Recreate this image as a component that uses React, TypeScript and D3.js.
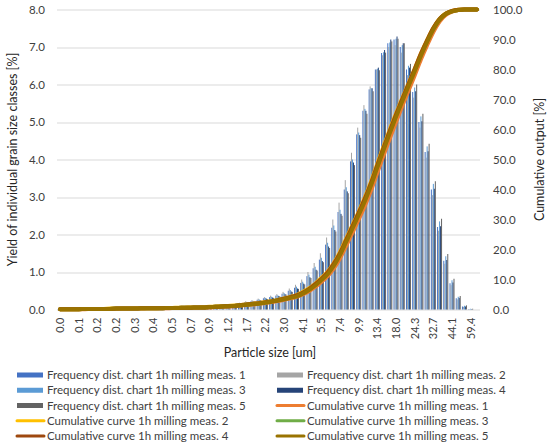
import * as d3 from "d3";
import React, { useRef, useEffect } from "react";

// particle size classes [um], only every third one is labelled
const sizes = [
    "0.0", "0.0", "0.1", "0.1", "0.1", "0.1", "0.2", "0.2", "0.2", "0.2",
    "0.2", "0.3", "0.3", "0.3", "0.3", "0.4", "0.4", "0.5", "0.5", "0.6",
    "0.6", "0.7", "0.7", "0.8", "0.9", "1.0", "1.1", "1.2", "1.4", "1.5",
    "1.7", "1.8", "2.0", "2.2", "2.5", "2.7", "3.0", "3.3", "3.7", "4.1",
    "4.5", "5.0", "5.5", "6.1", "6.7", "7.4", "8.1", "9.0", "9.9", "11.0",
    "12.1", "13.4", "14.8", "16.3", "18.0", "19.9", "22.0", "24.3", "26.8", "29.6",
    "32.7", "36.1", "39.9", "44.1", "48.7", "53.8", "59.4", "65.6",
];

const freq1 = [
    0.01, 0.01, 0.01, 0.01, 0.01, 0.01, 0.01, 0.01, 0.01, 0.01,
    0.01, 0.01, 0.01, 0.01, 0.01, 0.01, 0.01, 0.02, 0.02, 0.02,
    0.02, 0.03, 0.03, 0.04, 0.05, 0.06, 0.08, 0.10, 0.13, 0.16,
    0.19, 0.22, 0.26, 0.30, 0.33, 0.37, 0.42, 0.50, 0.58, 0.71,
    0.89, 1.10, 1.33, 1.73, 2.18, 2.60, 3.20, 3.95, 4.67, 5.30,
    5.87, 6.40, 6.84, 7.10, 7.20, 7.00, 6.40, 5.80, 5.00, 4.20,
    3.20, 2.20, 1.30, 0.70, 0.30, 0.08, 0.01, 0.00,
];
const freq2 = [
    0.01, 0.01, 0.01, 0.01, 0.01, 0.01, 0.01, 0.01, 0.01, 0.01,
    0.01, 0.01, 0.01, 0.01, 0.01, 0.01, 0.01, 0.02, 0.02, 0.02,
    0.02, 0.03, 0.04, 0.05, 0.06, 0.07, 0.09, 0.12, 0.15, 0.18,
    0.22, 0.25, 0.29, 0.33, 0.37, 0.41, 0.47, 0.56, 0.66, 0.80,
    1.00, 1.24, 1.50, 1.92, 2.40, 2.85, 3.45, 4.18, 4.85, 5.45,
    5.95, 6.40, 6.78, 7.00, 7.05, 6.85, 6.25, 5.65, 4.85, 4.05,
    3.05, 2.10, 1.22, 0.65, 0.27, 0.07, 0.01, 0.00,
];
const freq3 = [
    0.01, 0.01, 0.01, 0.01, 0.01, 0.01, 0.01, 0.01, 0.01, 0.01,
    0.01, 0.01, 0.01, 0.01, 0.01, 0.01, 0.01, 0.02, 0.02, 0.02,
    0.02, 0.03, 0.03, 0.04, 0.05, 0.06, 0.08, 0.11, 0.14, 0.17,
    0.20, 0.23, 0.27, 0.31, 0.34, 0.38, 0.44, 0.52, 0.61, 0.74,
    0.93, 1.14, 1.38, 1.78, 2.24, 2.66, 3.26, 4.00, 4.72, 5.35,
    5.90, 6.42, 6.86, 7.12, 7.22, 7.05, 6.50, 5.92, 5.15, 4.35,
    3.35, 2.35, 1.42, 0.78, 0.34, 0.10, 0.02, 0.00,
];
const freq4 = [
    0.01, 0.01, 0.01, 0.01, 0.01, 0.01, 0.01, 0.01, 0.01, 0.01,
    0.01, 0.01, 0.01, 0.01, 0.01, 0.01, 0.01, 0.02, 0.02, 0.02,
    0.02, 0.02, 0.03, 0.04, 0.05, 0.06, 0.08, 0.10, 0.12, 0.15,
    0.18, 0.21, 0.25, 0.29, 0.32, 0.36, 0.41, 0.48, 0.56, 0.69,
    0.86, 1.06, 1.29, 1.68, 2.12, 2.55, 3.15, 3.92, 4.65, 5.30,
    5.90, 6.45, 6.92, 7.20, 7.28, 7.10, 6.45, 5.82, 5.02, 4.22,
    3.22, 2.22, 1.32, 0.72, 0.31, 0.08, 0.01, 0.00,
];
const freq5 = [
    0.01, 0.01, 0.01, 0.01, 0.01, 0.01, 0.01, 0.01, 0.01, 0.01,
    0.01, 0.01, 0.01, 0.01, 0.01, 0.01, 0.01, 0.02, 0.02, 0.02,
    0.02, 0.02, 0.03, 0.04, 0.05, 0.06, 0.07, 0.09, 0.12, 0.15,
    0.18, 0.21, 0.24, 0.28, 0.31, 0.35, 0.40, 0.47, 0.55, 0.67,
    0.84, 1.04, 1.26, 1.64, 2.08, 2.50, 3.10, 3.85, 4.58, 5.22,
    5.82, 6.38, 6.85, 7.15, 7.22, 7.10, 6.55, 6.00, 5.22, 4.42,
    3.42, 2.42, 1.48, 0.82, 0.36, 0.11, 0.02, 0.00,
];

// cumulative output [%]
const cum1 = [
    0.1, 0.1, 0.1, 0.1, 0.1, 0.2, 0.2, 0.2, 0.2, 0.2,
    0.3, 0.3, 0.3, 0.3, 0.4, 0.4, 0.4, 0.4, 0.5, 0.5,
    0.5, 0.6, 0.6, 0.7, 0.7, 0.8, 0.9, 1.0, 1.1, 1.3,
    1.5, 1.7, 1.9, 2.2, 2.5, 2.8, 3.2, 3.7, 4.2, 5.0,
    6.1, 7.5, 9.2, 11.1, 13.7, 17.1, 21.3, 25.6, 30.0, 34.6,
    39.8, 45.6, 51.4, 57.0, 62.5, 67.8, 72.9, 78.0, 83.3, 88.1,
    92.5, 96.0, 98.2, 99.3, 99.8, 100, 100, 100,
];
const cum2 = [
    0.1, 0.1, 0.1, 0.1, 0.2, 0.2, 0.2, 0.2, 0.3, 0.3,
    0.3, 0.3, 0.4, 0.4, 0.4, 0.4, 0.5, 0.5, 0.5, 0.6,
    0.6, 0.7, 0.7, 0.8, 0.9, 1.0, 1.1, 1.2, 1.3, 1.5,
    1.7, 1.9, 2.2, 2.5, 2.8, 3.2, 3.7, 4.2, 4.8, 5.8,
    7.0, 8.6, 10.5, 12.6, 15.5, 19.2, 23.6, 28.1, 32.6, 37.4,
    42.7, 48.6, 54.4, 60.0, 65.3, 70.4, 75.3, 80.2, 85.3, 89.8,
    93.8, 96.9, 98.7, 99.5, 99.9, 100, 100, 100,
];
const cum3 = [
    0.1, 0.1, 0.1, 0.1, 0.2, 0.2, 0.2, 0.2, 0.2, 0.3,
    0.3, 0.3, 0.3, 0.4, 0.4, 0.4, 0.4, 0.5, 0.5, 0.5,
    0.6, 0.6, 0.7, 0.7, 0.8, 0.9, 1.0, 1.1, 1.2, 1.4,
    1.6, 1.8, 2.0, 2.3, 2.7, 3.1, 3.5, 4.0, 4.6, 5.5,
    6.7, 8.2, 10.0, 12.1, 14.9, 18.5, 22.9, 27.4, 31.9, 36.6,
    41.9, 47.8, 53.6, 59.2, 64.6, 69.8, 74.8, 79.8, 84.9, 89.5,
    93.6, 96.7, 98.6, 99.4, 99.8, 100, 100, 100,
];
const cum4 = [
    0.1, 0.1, 0.1, 0.1, 0.2, 0.2, 0.2, 0.2, 0.2, 0.3,
    0.3, 0.3, 0.3, 0.4, 0.4, 0.4, 0.4, 0.5, 0.5, 0.5,
    0.6, 0.6, 0.7, 0.7, 0.8, 0.9, 1.0, 1.1, 1.2, 1.4,
    1.7, 1.9, 2.1, 2.4, 2.7, 3.1, 3.6, 4.1, 4.7, 5.6,
    6.8, 8.4, 10.2, 12.3, 15.2, 18.8, 23.2, 27.7, 32.2, 37.0,
    42.2, 48.1, 53.9, 59.5, 64.9, 70.1, 75.1, 80.1, 85.2, 89.7,
    93.8, 96.8, 98.6, 99.5, 99.9, 100, 100, 100,
];
const cum5 = [
    0.1, 0.1, 0.1, 0.1, 0.2, 0.2, 0.2, 0.2, 0.2, 0.3,
    0.3, 0.3, 0.3, 0.4, 0.4, 0.4, 0.4, 0.5, 0.5, 0.5,
    0.6, 0.6, 0.7, 0.7, 0.8, 0.9, 1.0, 1.1, 1.2, 1.4,
    1.6, 1.8, 2.0, 2.3, 2.6, 3.0, 3.4, 3.9, 4.4, 5.3,
    6.5, 8.0, 9.8, 11.8, 14.6, 18.2, 22.6, 27.0, 31.5, 36.2,
    41.5, 47.4, 53.2, 58.8, 64.2, 69.4, 74.4, 79.4, 84.6, 89.2,
    93.4, 96.6, 98.5, 99.4, 99.8, 100, 100, 100,
];

const leftTicks = [0, 1, 2, 3, 4, 5, 6, 7, 8];
const rightTicks = [0, 10, 20, 30, 40, 50, 60, 70, 80, 90, 100];

const barSeries = [
    { name: "Frequency dist. chart 1h milling meas. 1", values: freq1, color: "#4472C4" },
    { name: "Frequency dist. chart 1h milling meas. 2", values: freq2, color: "#A5A5A5" },
    { name: "Frequency dist. chart 1h milling meas. 3", values: freq3, color: "#5B9BD5" },
    { name: "Frequency dist. chart 1h milling meas. 4", values: freq4, color: "#264478" },
    { name: "Frequency dist. chart 1h milling meas. 5", values: freq5, color: "#636363" },
];
const lineSeries = [
    { name: "Cumulative curve 1h milling meas. 1", values: cum1, color: "#ED7D31" },
    { name: "Cumulative curve 1h milling meas. 2", values: cum2, color: "#FFC000" },
    { name: "Cumulative curve 1h milling meas. 3", values: cum3, color: "#70AD47" },
    { name: "Cumulative curve 1h milling meas. 4", values: cum4, color: "#9E480E" },
    { name: "Cumulative curve 1h milling meas. 5", values: cum5, color: "#997300" },
];

const width = 550;
const height = 448;
const font = "Lato, 'Open Sans', sans-serif";

function App() {
    const ref = useRef(null);

    const margin = { top: 9.5, right: 70, bottom: 138.5, left: 57 };
    const chartWidth = width - margin.left - margin.right;
    const chartHeight = height - margin.top - margin.bottom;

    useEffect(() => {
        draw();
    }, []);

    const draw = () => {
        const svg = d3.select(ref.current);
        svg.selectAll("*").remove();

        const idx = d3.range(sizes.length);
        const x = d3
            .scaleBand()
            .domain(idx)
            .range([0, chartWidth])
            .paddingInner(0.2)
            .paddingOuter(0.1);
        const x1 = d3
            .scaleBand()
            .domain(d3.range(barSeries.length))
            .range([0, x.bandwidth()]);
        const yLeft = d3.scaleLinear().domain([0, 8]).range([chartHeight, 0]);
        const yRight = d3.scaleLinear().domain([0, 100]).range([chartHeight, 0]);

        const chart = svg
            .append("g")
            .attr("transform", `translate(${margin.left}, ${margin.top})`);

        // gridlines
        chart
            .append("g")
            .selectAll("line")
            .data(leftTicks)
            .enter()
            .append("line")
            .attr("x1", 0)
            .attr("x2", chartWidth)
            .attr("y1", (d) => Math.round(yLeft(d)) + 0.5)
            .attr("y2", (d) => Math.round(yLeft(d)) + 0.5)
            .attr("stroke", "#D9D9D9")
            .attr("stroke-width", 1);

        // bars
        const groups = chart
            .append("g")
            .selectAll("g")
            .data(idx)
            .enter()
            .append("g")
            .attr("transform", (i) => `translate(${x(i)}, 0)`);

        groups
            .selectAll("rect")
            .data((i) => barSeries.map((s, k) => ({ k, v: s.values[i], color: s.color })))
            .enter()
            .append("rect")
            .attr("x", (d) => x1(d.k))
            .attr("y", (d) => yLeft(d.v))
            .attr("width", x1.bandwidth())
            .attr("height", (d) => chartHeight - yLeft(d.v))
            .attr("fill", (d) => d.color);

        // cumulative curves
        const line = d3
            .line()
            .x((d, i) => x(i) + x.bandwidth() / 2)
            .y((d) => yRight(d))
            .curve(d3.curveMonotoneX);

        lineSeries.forEach((s) => {
            chart
                .append("path")
                .datum(s.values)
                .attr("d", line)
                .attr("fill", "none")
                .attr("stroke", s.color)
                .attr("stroke-width", 4)
                .attr("stroke-linejoin", "round")
                .attr("stroke-linecap", "round");
        });

        // axes
        const xAxis = d3
            .axisBottom(x)
            .tickValues(idx.filter((i) => i % 3 === 0))
            .tickFormat((i) => sizes[i])
            .tickSize(0);
        const xg = chart.append("g").attr("transform", `translate(0, ${chartHeight})`).call(xAxis);
        xg.select(".domain").remove();
        xg.selectAll("text")
            .attr("font-family", font)
            .attr("font-size", 11)
            .attr("fill", "#404040")
            .style("text-anchor", "end")
            .attr("x", -8)
            .attr("y", 0)
            .attr("dy", "0.35em")
            .attr("transform", "rotate(-90)");

        const yAxisL = d3.axisLeft(yLeft).tickValues(leftTicks).tickFormat(d3.format(".1f")).tickSize(0).tickPadding(12);
        const yl = chart.append("g").call(yAxisL);
        yl.select(".domain").remove();
        yl.selectAll("text").attr("font-family", font).attr("font-size", 11.5).attr("fill", "#404040");

        const yAxisR = d3.axisRight(yRight).tickValues(rightTicks).tickFormat(d3.format(".1f")).tickSize(0).tickPadding(13);
        const yr = chart.append("g").attr("transform", `translate(${chartWidth}, 0)`).call(yAxisR);
        yr.select(".domain").remove();
        yr.selectAll("text").attr("font-family", font).attr("font-size", 11.5).attr("fill", "#404040");

        // axis titles
        svg.append("text")
            .attr("x", 270)
            .attr("y", 357)
            .attr("text-anchor", "middle")
            .attr("font-family", font)
            .attr("font-size", 12.5)
            .attr("fill", "#262626")
            .text("Particle size [um]");

        svg.append("text")
            .attr("transform", `translate(17, ${margin.top + chartHeight / 2}) rotate(-90)`)
            .attr("text-anchor", "middle")
            .attr("font-family", font)
            .attr("font-size", 12.5)
            .attr("fill", "#262626")
            .text("Yield of individual grain size classes [%]");

        svg.append("text")
            .attr("transform", `translate(544, ${margin.top + chartHeight / 2}) rotate(-90)`)
            .attr("text-anchor", "middle")
            .attr("font-family", font)
            .attr("font-size", 12.5)
            .attr("fill", "#262626")
            .text("Cumulative output [%]");

        // legend, two columns, row by row
        const items = [
            ...barSeries.map((s) => ({ ...s, kind: "bar" })),
            ...lineSeries.map((s) => ({ ...s, kind: "line" })),
        ];
        const legend = svg.append("g");
        const entry = legend
            .selectAll("g")
            .data(items)
            .enter()
            .append("g")
            .attr("transform", (d, i) => `translate(${i % 2 === 0 ? 17 : 277}, ${375 + Math.floor(i / 2) * 15.25})`);

        entry
            .filter((d) => d.kind === "bar")
            .append("rect")
            .attr("x", 0)
            .attr("y", -2.5)
            .attr("width", 26)
            .attr("height", 5)
            .attr("fill", (d) => d.color);

        entry
            .filter((d) => d.kind === "line")
            .append("line")
            .attr("x1", 0)
            .attr("x2", 27)
            .attr("y1", 0)
            .attr("y2", 0)
            .attr("stroke", (d) => d.color)
            .attr("stroke-width", 3)
            .attr("stroke-linecap", "round");

        entry
            .append("text")
            .attr("x", 30)
            .attr("y", 0)
            .attr("dy", "0.35em")
            .attr("font-family", font)
            .attr("font-size", 11.5)
            .attr("fill", "#404040")
            .text((d) => d.name);
    };

    return (
        <div>
            <svg
                ref={ref}
                width={width}
                height={height}
                style={{ position: "absolute", left: 0, top: 0, background: "#fff" }}
            ></svg>
        </div>
    );
}

export default App;
